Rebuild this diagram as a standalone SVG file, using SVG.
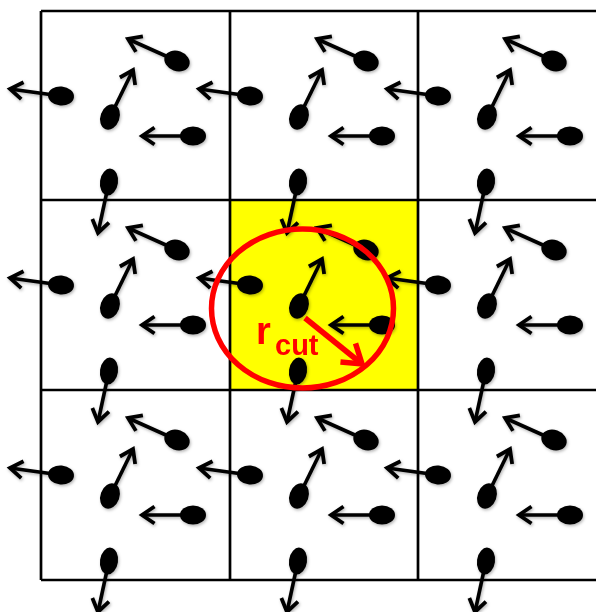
<svg xmlns="http://www.w3.org/2000/svg" xmlns:xlink="http://www.w3.org/1999/xlink" width="596" height="612" viewBox="0 0 596 612">
<style>
.grid{stroke:#000;stroke-width:2.7;fill:none}
.vec{stroke:#000;stroke-width:3.6;fill:none;marker-end:url(#ah)}
.atom{fill:#000}
.cut{fill:none;stroke:#FF0000;stroke-width:5.5}
.lbl{font-family:"Liberation Sans",Arial,sans-serif;font-weight:bold;fill:#FF0000}
</style>
<defs>
<filter id="sh" x="-20%" y="-20%" width="140%" height="140%">
<feDropShadow dx="1" dy="1.5" stdDeviation="1.5" flood-color="#000" flood-opacity="0.3"/>
</filter>
<marker id="ah" markerUnits="userSpaceOnUse" markerWidth="36" markerHeight="36" viewBox="-18 -18 36 36" refX="0" refY="0" orient="auto">
<path d="M-12.5,-8.5 L0,0 L-12.5,8.5" fill="none" stroke="#000" stroke-width="3.8" stroke-linejoin="miter"/>
</marker>
<marker id="rah" markerUnits="userSpaceOnUse" markerWidth="40" markerHeight="40" viewBox="-20 -20 40 40" refX="0" refY="0" orient="auto">
<path d="M-18,-12 L0,0 L-18,12" fill="none" stroke="#FF0000" stroke-width="5.5" stroke-linejoin="miter"/>
</marker>
<g id="cell" filter="url(#sh)">
<line class="vec" x1="20" y1="85" x2="-31" y2="78"/>
<ellipse class="atom" cx="20" cy="85" rx="13" ry="9.5" transform="rotate(5 20 85)"/>
<line class="vec" x1="136" y1="50" x2="87" y2="28"/>
<ellipse class="atom" cx="136" cy="50" rx="13" ry="10" transform="rotate(20 136 50)"/>
<line class="vec" x1="69" y1="106" x2="92" y2="59"/>
<ellipse class="atom" cx="69" cy="106" rx="9.5" ry="13" transform="rotate(20 69 106)"/>
<line class="vec" x1="152" y1="125" x2="101" y2="125"/>
<ellipse class="atom" cx="152" cy="125" rx="13" ry="9.5"/>
<line class="vec" x1="68" y1="171" x2="57" y2="222"/>
<ellipse class="atom" cx="68" cy="171" rx="9" ry="13.5" transform="rotate(8 68 171)"/>
</g>
</defs>
<rect id="center-cell" x="230" y="200" width="188" height="190" fill="#FFFF00"/>
<g id="grid">
<line class="grid" x1="41" y1="11" x2="41" y2="580"/>
<line class="grid" x1="230" y1="11" x2="230" y2="580"/>
<line class="grid" x1="418" y1="11" x2="418" y2="580"/>
<line class="grid" x1="41" y1="11" x2="596" y2="11"/>
<line class="grid" x1="41" y1="200" x2="596" y2="200"/>
<line class="grid" x1="41" y1="390" x2="596" y2="390"/>
<line class="grid" x1="41" y1="580" x2="596" y2="580"/>
</g>
<g id="particles">
<use id="cell-1-1" xlink:href="#cell" href="#cell" transform="translate(41 11)"/>
<use id="cell-1-2" xlink:href="#cell" href="#cell" transform="translate(230 11)"/>
<use id="cell-1-3" xlink:href="#cell" href="#cell" transform="translate(418 11)"/>
<use id="cell-2-1" xlink:href="#cell" href="#cell" transform="translate(41 200)"/>
<use id="cell-2-2" xlink:href="#cell" href="#cell" transform="translate(230 200)"/>
<use id="cell-2-3" xlink:href="#cell" href="#cell" transform="translate(418 200)"/>
<use id="cell-3-1" xlink:href="#cell" href="#cell" transform="translate(41 390)"/>
<use id="cell-3-2" xlink:href="#cell" href="#cell" transform="translate(230 390)"/>
<use id="cell-3-3" xlink:href="#cell" href="#cell" transform="translate(418 390)"/>
</g>
<g id="cutoff">
<ellipse class="cut" cx="302.5" cy="308.5" rx="91" ry="79.5"/>
<line x1="305" y1="318" x2="362" y2="364" stroke="#FF0000" stroke-width="5.5" marker-end="url(#rah)"/>
<text class="lbl" x="256" y="344" font-size="38">r</text>
<text class="lbl" x="275" y="355" font-size="29">cut</text>
</g>
</svg>
